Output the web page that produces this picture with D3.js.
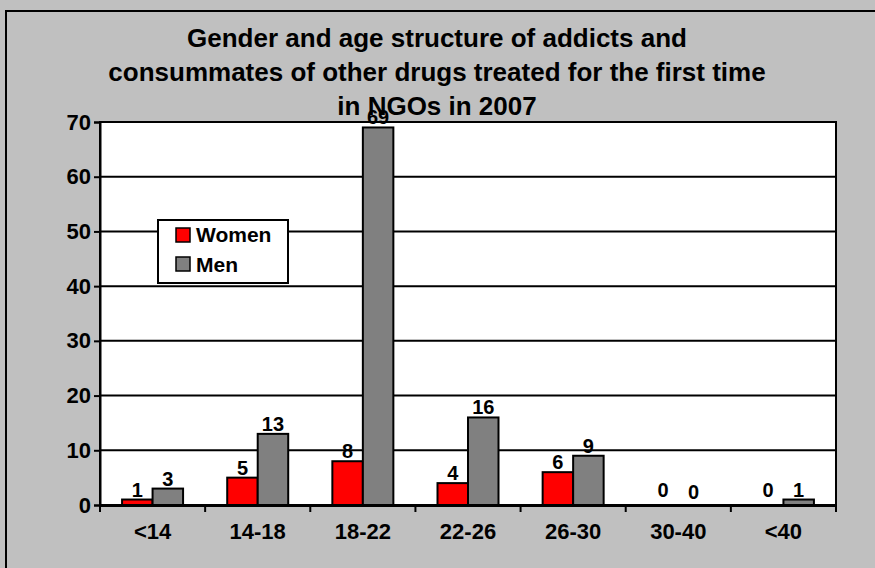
<!DOCTYPE html>
<html>
<head>
<meta charset="utf-8">
<script src="https://cdn.jsdelivr.net/npm/d3@7"></script>
<style>
  body { margin: 0; background: #c0c0c0; }
  svg { display: block; font-family: Arial, "Liberation Sans", sans-serif; font-weight: bold; }
</style>
</head>
<body>
<script>
// data
var categories = ["<14", "14-18", "18-22", "22-26", "26-30", "30-40", "<40"];
var women = [1, 5, 8, 4, 6, 0, 0];
var men = [3, 13, 69, 16, 9, 0, 1];
var seriesNames = ["Women", "Men"];
var seriesColors = ["#ff0000", "#808080"];
var yTicks = [0, 10, 20, 30, 40, 50, 60, 70];
var titleLines = [
  "Gender and age structure of addicts and",
  "consummates of other drugs treated for the first time",
  "in NGOs in 2007"
];

var W = 875, H = 568;
var margin = { top: 122, right: 39, bottom: 63, left: 100 };
var width = W - margin.left - margin.right,
    height = H - margin.top - margin.bottom;
var FONT = "Arial, 'Liberation Sans', sans-serif";

var svg = d3.select("body").append("svg")
  .attr("width", W)
  .attr("height", H);

// outer frame
svg.append("rect")
  .attr("x", 6).attr("y", 11)
  .attr("width", W + 10).attr("height", H + 10)
  .attr("fill", "#c0c0c0")
  .attr("stroke", "#000").attr("stroke-width", 2);

var x0 = d3.scaleBand().domain(categories).range([0, width]);
var x1 = d3.scaleBand().domain(seriesNames).range([0, 61]);
var y = d3.scaleLinear().domain([0, 70]).range([height, 0]);

var g = svg.append("g")
  .attr("transform", "translate(" + margin.left + "," + margin.top + ")");

g.append("rect")
  .attr("width", width).attr("height", height)
  .attr("fill", "#fff");

// gridlines
g.selectAll(".grid")
  .data(yTicks.slice(1, -1))
  .enter().append("line")
  .attr("x1", 0).attr("x2", width)
  .attr("y1", function(d) { return y(d); })
  .attr("y2", function(d) { return y(d); })
  .attr("stroke", "#000").attr("stroke-width", 2);

// bars
var rows = categories.map(function(c, i) {
  return { cat: c, vals: [women[i], men[i]] };
});

var groups = g.selectAll(".grp")
  .data(rows)
  .enter().append("g")
  .attr("transform", function(d) {
    return "translate(" + (x0(d.cat) + (x0.bandwidth() - 61) / 2) + ",0)";
  });

groups.selectAll("rect")
  .data(function(d) { return d.vals; })
  .enter().append("rect")
  .attr("x", function(d, i) { return x1(seriesNames[i]); })
  .attr("y", function(d) { return y(d); })
  .attr("width", x1.bandwidth())
  .attr("height", function(d) { return height - y(d); })
  .attr("fill", function(d, i) { return seriesColors[i]; })
  .attr("stroke", "#000").attr("stroke-width", 2)
  .style("display", function(d) { return d === 0 ? "none" : null; });

// plot frame
g.append("rect")
  .attr("width", width).attr("height", height)
  .attr("fill", "none")
  .attr("stroke", "#000").attr("stroke-width", 2);

// axes
var yAxis = g.append("g")
  .call(d3.axisLeft(y).tickValues(yTicks).tickSize(6).tickPadding(3));
yAxis.select(".domain").attr("stroke-width", 2);
yAxis.selectAll(".tick line").attr("stroke-width", 2);
yAxis.selectAll("text")
  .attr("font-size", 22).attr("font-weight", "bold").attr("fill", "#000")
  .attr("font-family", FONT);

var xAxis = g.append("g")
  .attr("transform", "translate(0," + height + ")")
  .call(d3.axisBottom(x0).tickSize(0).tickPadding(18));
xAxis.select(".domain").attr("stroke-width", 3);
xAxis.selectAll("text")
  .attr("font-size", 22).attr("font-weight", "bold").attr("fill", "#000")
  .attr("font-family", FONT);

// category boundary ticks
g.selectAll(".xtick")
  .data(categories.concat(["end"]))
  .enter().append("line")
  .attr("x1", function(d, i) { return i * x0.step(); })
  .attr("x2", function(d, i) { return i * x0.step(); })
  .attr("y1", height).attr("y2", height + 7)
  .attr("stroke", "#000").attr("stroke-width", 2);

// value labels
groups.selectAll(".val")
  .data(function(d) { return d.vals; })
  .enter().append("text")
  .attr("x", function(d, i) { return x1(seriesNames[i]) + x1.bandwidth() / 2; })
  .attr("y", function(d, i) { return y(d) - (d === 0 ? (i === 0 ? 8 : 6) : 3); })
  .attr("text-anchor", "middle")
  .attr("font-size", 20)
  .text(function(d) { return d; });

// title
svg.selectAll(".title")
  .data(titleLines)
  .enter().append("text")
  .attr("x", 437)
  .attr("y", function(d, i) { return 47 + i * 34; })
  .attr("text-anchor", "middle")
  .attr("font-size", 26)
  .text(function(d) { return d; });

// legend
var legend = svg.append("g").attr("transform", "translate(158,220)");
legend.append("rect")
  .attr("width", 130).attr("height", 63)
  .attr("fill", "#fff")
  .attr("stroke", "#000").attr("stroke-width", 2);
seriesNames.forEach(function(s, i) {
  legend.append("rect")
    .attr("x", 18).attr("y", 8 + i * 29)
    .attr("width", 14).attr("height", 14)
    .attr("fill", seriesColors[i])
    .attr("stroke", "#000").attr("stroke-width", 1.5);
  legend.append("text")
    .attr("x", 38).attr("y", 22 + i * 30)
    .attr("font-size", 21)
    .text(s);
});
</script>
</body>
</html>
